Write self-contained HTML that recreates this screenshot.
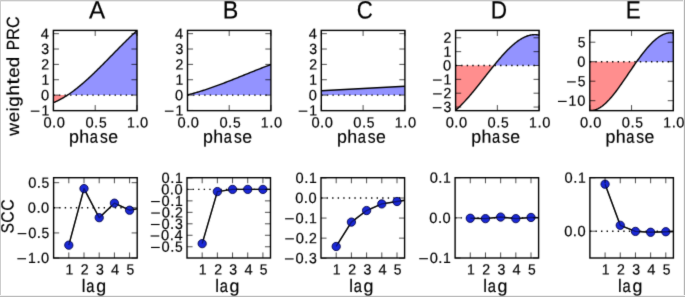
<!DOCTYPE html>
<html><head><meta charset="utf-8"><title>weighted PRC and SCC</title>
<style>html,body{margin:0;padding:0;background:#fff;overflow:hidden}svg{display:block;will-change:transform}text{fill:#000;stroke:#000;stroke-width:0.18px;text-rendering:geometricPrecision}</style>
</head><body>
<svg width="685" height="297" viewBox="0 0 685 297" font-family='"Liberation Sans", sans-serif'>
<rect width="685" height="297" fill="#fff"/>
<rect x="0" y="0" width="685" height="1" fill="#c8c8c8"/>
<rect x="0" y="1" width="685" height="1" fill="#ececec"/>
<rect x="0" y="0" width="1" height="297" fill="#cdcdcd"/>
<rect x="684" y="0" width="1" height="297" fill="#b4b4b4"/>
<rect x="683" y="0" width="1" height="297" fill="#f0f0f0"/>
<rect x="0" y="296" width="685" height="1" fill="#bcbcbc"/>
<rect x="0" y="295" width="685" height="1" fill="#f0f0f0"/>
<defs>
<filter id="soft" filterUnits="userSpaceOnUse" x="0" y="0" width="685" height="297" color-interpolation-filters="sRGB"><feConvolveMatrix order="3" kernelMatrix="0.01145 0.08410 0.01145 0.08410 0.61780 0.08410 0.01145 0.08410 0.01145" divisor="1" edgeMode="none"/></filter>
<clipPath id="ct0"><rect x="53.4" y="30.4" width="83.6" height="80.25"/></clipPath>
<clipPath id="cb0"><rect x="53.6" y="177.7" width="83.6" height="80.3"/></clipPath>
<clipPath id="ct1"><rect x="187.5" y="30.4" width="83.4" height="80.25"/></clipPath>
<clipPath id="cb1"><rect x="187.0" y="177.7" width="83.5" height="80.3"/></clipPath>
<clipPath id="ct2"><rect x="321.3" y="30.4" width="83.6" height="80.25"/></clipPath>
<clipPath id="cb2"><rect x="321.0" y="177.7" width="83.6" height="80.3"/></clipPath>
<clipPath id="ct3"><rect x="455.6" y="30.4" width="83.5" height="80.25"/></clipPath>
<clipPath id="cb3"><rect x="455.1" y="177.7" width="83.5" height="80.3"/></clipPath>
<clipPath id="ct4"><rect x="589.8" y="30.4" width="83.5" height="80.25"/></clipPath>
<clipPath id="cb4"><rect x="589.9" y="177.7" width="83.5" height="80.3"/></clipPath>
</defs>
<g filter="url(#soft)">
<g clip-path="url(#ct0)">
<polygon points="53.4,95.1 54.1,95.1 54.81,95.1 55.51,95.1 56.21,95.1 56.91,95.1 57.62,95.1 58.32,95.1 59.02,95.1 59.72,95.1 60.43,95.1 61.13,95.1 61.83,95.1 62.53,95.1 63.24,95.1 63.94,95.1 64.64,95.1 65.34,95.1 66.05,95.1 66.75,95.1 67.45,95.1 68.15,94.69 68.86,94.22 69.56,93.74 70.26,93.25 70.96,92.75 71.67,92.24 72.37,91.73 73.07,91.21 73.77,90.69 74.48,90.16 75.18,89.62 75.88,89.07 76.58,88.52 77.29,87.96 77.99,87.39 78.69,86.82 79.39,86.25 80.1,85.66 80.8,85.07 81.5,84.48 82.2,83.88 82.91,83.27 83.61,82.66 84.31,82.05 85.01,81.43 85.72,80.8 86.42,80.17 87.12,79.54 87.82,78.9 88.53,78.25 89.23,77.61 89.93,76.95 90.63,76.3 91.34,75.64 92.04,74.98 92.74,74.31 93.44,73.64 94.15,72.96 94.85,72.29 95.55,71.61 96.25,70.92 96.96,70.24 97.66,69.55 98.36,68.86 99.06,68.16 99.77,67.47 100.47,66.77 101.17,66.07 101.87,65.37 102.58,64.66 103.28,63.96 103.98,63.25 104.68,62.54 105.39,61.83 106.09,61.12 106.79,60.4 107.49,59.69 108.2,58.98 108.9,58.26 109.6,57.55 110.3,56.83 111.01,56.11 111.71,55.4 112.41,54.68 113.11,53.97 113.82,53.25 114.52,52.53 115.22,51.82 115.92,51.1 116.63,50.39 117.33,49.68 118.03,48.96 118.73,48.25 119.44,47.54 120.14,46.83 120.84,46.13 121.54,45.42 122.25,44.72 122.95,44.02 123.65,43.32 124.35,42.62 125.06,41.92 125.76,41.23 126.46,40.54 127.16,39.85 127.87,39.16 128.57,38.48 129.27,37.8 129.97,37.12 130.68,36.45 131.38,35.78 132.08,35.11 132.78,34.45 133.49,33.79 134.19,33.14 134.89,32.49 135.59,31.84 136.3,31.2 137,30.56 137,95.1 53.4,95.1" fill="#9393ff"/>
<polygon points="53.4,102.62 54.1,102.34 54.81,102.05 55.51,101.75 56.21,101.44 56.91,101.11 57.62,100.78 58.32,100.44 59.02,100.09 59.72,99.73 60.43,99.35 61.13,98.97 61.83,98.59 62.53,98.19 63.24,97.78 63.94,97.36 64.64,96.94 65.34,96.51 66.05,96.06 66.75,95.61 67.45,95.16 68.15,95.1 68.86,95.1 69.56,95.1 70.26,95.1 70.96,95.1 71.67,95.1 72.37,95.1 73.07,95.1 73.77,95.1 74.48,95.1 75.18,95.1 75.88,95.1 76.58,95.1 77.29,95.1 77.99,95.1 78.69,95.1 79.39,95.1 80.1,95.1 80.8,95.1 81.5,95.1 82.2,95.1 82.91,95.1 83.61,95.1 84.31,95.1 85.01,95.1 85.72,95.1 86.42,95.1 87.12,95.1 87.82,95.1 88.53,95.1 89.23,95.1 89.93,95.1 90.63,95.1 91.34,95.1 92.04,95.1 92.74,95.1 93.44,95.1 94.15,95.1 94.85,95.1 95.55,95.1 96.25,95.1 96.96,95.1 97.66,95.1 98.36,95.1 99.06,95.1 99.77,95.1 100.47,95.1 101.17,95.1 101.87,95.1 102.58,95.1 103.28,95.1 103.98,95.1 104.68,95.1 105.39,95.1 106.09,95.1 106.79,95.1 107.49,95.1 108.2,95.1 108.9,95.1 109.6,95.1 110.3,95.1 111.01,95.1 111.71,95.1 112.41,95.1 113.11,95.1 113.82,95.1 114.52,95.1 115.22,95.1 115.92,95.1 116.63,95.1 117.33,95.1 118.03,95.1 118.73,95.1 119.44,95.1 120.14,95.1 120.84,95.1 121.54,95.1 122.25,95.1 122.95,95.1 123.65,95.1 124.35,95.1 125.06,95.1 125.76,95.1 126.46,95.1 127.16,95.1 127.87,95.1 128.57,95.1 129.27,95.1 129.97,95.1 130.68,95.1 131.38,95.1 132.08,95.1 132.78,95.1 133.49,95.1 134.19,95.1 134.89,95.1 135.59,95.1 136.3,95.1 137,95.1 137,95.1 53.4,95.1" fill="#ff8e8e"/>
<line x1="53.4" y1="95.1" x2="137.0" y2="95.1" stroke="#000" stroke-width="1.39" stroke-dasharray="1.39 4.17"/>
<polyline points="53.4,102.62 54.1,102.34 54.81,102.05 55.51,101.75 56.21,101.44 56.91,101.11 57.62,100.78 58.32,100.44 59.02,100.09 59.72,99.73 60.43,99.35 61.13,98.97 61.83,98.59 62.53,98.19 63.24,97.78 63.94,97.36 64.64,96.94 65.34,96.51 66.05,96.06 66.75,95.61 67.45,95.16 68.15,94.69 68.86,94.22 69.56,93.74 70.26,93.25 70.96,92.75 71.67,92.24 72.37,91.73 73.07,91.21 73.77,90.69 74.48,90.16 75.18,89.62 75.88,89.07 76.58,88.52 77.29,87.96 77.99,87.39 78.69,86.82 79.39,86.25 80.1,85.66 80.8,85.07 81.5,84.48 82.2,83.88 82.91,83.27 83.61,82.66 84.31,82.05 85.01,81.43 85.72,80.8 86.42,80.17 87.12,79.54 87.82,78.9 88.53,78.25 89.23,77.61 89.93,76.95 90.63,76.3 91.34,75.64 92.04,74.98 92.74,74.31 93.44,73.64 94.15,72.96 94.85,72.29 95.55,71.61 96.25,70.92 96.96,70.24 97.66,69.55 98.36,68.86 99.06,68.16 99.77,67.47 100.47,66.77 101.17,66.07 101.87,65.37 102.58,64.66 103.28,63.96 103.98,63.25 104.68,62.54 105.39,61.83 106.09,61.12 106.79,60.4 107.49,59.69 108.2,58.98 108.9,58.26 109.6,57.55 110.3,56.83 111.01,56.11 111.71,55.4 112.41,54.68 113.11,53.97 113.82,53.25 114.52,52.53 115.22,51.82 115.92,51.1 116.63,50.39 117.33,49.68 118.03,48.96 118.73,48.25 119.44,47.54 120.14,46.83 120.84,46.13 121.54,45.42 122.25,44.72 122.95,44.02 123.65,43.32 124.35,42.62 125.06,41.92 125.76,41.23 126.46,40.54 127.16,39.85 127.87,39.16 128.57,38.48 129.27,37.8 129.97,37.12 130.68,36.45 131.38,35.78 132.08,35.11 132.78,34.45 133.49,33.79 134.19,33.14 134.89,32.49 135.59,31.84 136.3,31.2 137,30.56" fill="none" stroke="#000" stroke-width="1.4" stroke-linejoin="round"/>
</g>
<line x1="53.4" y1="110.46" x2="58.96" y2="110.46" stroke="#000" stroke-width="0.7"/>
<line x1="131.44" y1="110.46" x2="137.0" y2="110.46" stroke="#000" stroke-width="0.7"/>
<line x1="53.4" y1="95.1" x2="58.96" y2="95.1" stroke="#000" stroke-width="0.7"/>
<line x1="131.44" y1="95.1" x2="137.0" y2="95.1" stroke="#000" stroke-width="0.7"/>
<line x1="53.4" y1="79.74" x2="58.96" y2="79.74" stroke="#000" stroke-width="0.7"/>
<line x1="131.44" y1="79.74" x2="137.0" y2="79.74" stroke="#000" stroke-width="0.7"/>
<line x1="53.4" y1="64.38" x2="58.96" y2="64.38" stroke="#000" stroke-width="0.7"/>
<line x1="131.44" y1="64.38" x2="137.0" y2="64.38" stroke="#000" stroke-width="0.7"/>
<line x1="53.4" y1="49.02" x2="58.96" y2="49.02" stroke="#000" stroke-width="0.7"/>
<line x1="131.44" y1="49.02" x2="137.0" y2="49.02" stroke="#000" stroke-width="0.7"/>
<line x1="53.4" y1="33.66" x2="58.96" y2="33.66" stroke="#000" stroke-width="0.7"/>
<line x1="131.44" y1="33.66" x2="137.0" y2="33.66" stroke="#000" stroke-width="0.7"/>
<line x1="53.4" y1="30.4" x2="53.4" y2="35.96" stroke="#000" stroke-width="0.7"/>
<line x1="53.4" y1="105.09" x2="53.4" y2="110.65" stroke="#000" stroke-width="0.7"/>
<line x1="95.2" y1="30.4" x2="95.2" y2="35.96" stroke="#000" stroke-width="0.7"/>
<line x1="95.2" y1="105.09" x2="95.2" y2="110.65" stroke="#000" stroke-width="0.7"/>
<line x1="137" y1="30.4" x2="137" y2="35.96" stroke="#000" stroke-width="0.7"/>
<line x1="137" y1="105.09" x2="137" y2="110.65" stroke="#000" stroke-width="0.7"/>
<rect x="53.4" y="30.4" width="83.6" height="80.25" fill="none" stroke="#000" stroke-width="1.39"/>
<rect x="30.77" y="110.59" width="8.7" height="1.15" fill="#000"/>
<text transform="translate(41.4,115.53) rotate(0.05) scale(1.0068,1.0596)" font-size="13.9">1</text>
<text transform="translate(40.92,100.17) rotate(0.05) scale(1.0541,1.0629)" font-size="13.9">0</text>
<text transform="translate(41.4,84.81) rotate(0.05) scale(1.0068,1.0596)" font-size="13.9">1</text>
<text transform="translate(41.36,69.45) rotate(0.05) scale(1.0161,1.0629)" font-size="13.9">2</text>
<text transform="translate(41.29,54.09) rotate(0.05) scale(1.0124,1.0629)" font-size="13.9">3</text>
<text transform="translate(40.78,38.73) rotate(0.05) scale(1.0543,1.0596)" font-size="13.9">4</text>
<text transform="translate(43.49,127.5) rotate(0.05) scale(1.0541,1.0629)" font-size="13.9">0</text>
<text transform="translate(52.11,127.5) rotate(0.05) scale(1.0821,1.1598)" font-size="13.9">.</text>
<text transform="translate(56.76,127.5) rotate(0.05) scale(1.0541,1.0629)" font-size="13.9">0</text>
<text transform="translate(85.44,127.5) rotate(0.05) scale(1.0541,1.0629)" font-size="13.9">0</text>
<text transform="translate(94.05,127.5) rotate(0.05) scale(1.0821,1.1598)" font-size="13.9">.</text>
<text transform="translate(98.88,127.5) rotate(0.05) scale(0.9949,1.0596)" font-size="13.9">5</text>
<text transform="translate(126.91,127.5) rotate(0.05) scale(1.0068,1.0596)" font-size="13.9">1</text>
<text transform="translate(135.4,127.5) rotate(0.05) scale(1.0821,1.1598)" font-size="13.9">.</text>
<text transform="translate(140.05,127.5) rotate(0.05) scale(1.0541,1.0629)" font-size="13.9">0</text>
<text transform="translate(69.05,142.7) rotate(0.05) scale(1.0675,1.0749)" font-size="16.67">p</text>
<text transform="translate(79.35,142.7) rotate(0.05) scale(1.0652,1.0819)" font-size="16.67">h</text>
<text transform="translate(89.82,142.7) rotate(0.05) scale(0.8823,1.0739)" font-size="16.67">a</text>
<text transform="translate(99.94,142.7) rotate(0.05) scale(0.9405,1.0769)" font-size="16.67">s</text>
<text transform="translate(108.16,142.7) rotate(0.05) scale(1.0598,1.0739)" font-size="16.67">e</text>
<text transform="translate(89.02,18.4) rotate(0.05) scale(1.0265,1.0596)" font-size="23.6">A</text>
<g clip-path="url(#ct1)">
<polygon points="187.5,94.9 188.2,94.73 188.9,94.55 189.6,94.37 190.3,94.19 191,94.01 191.71,93.82 192.41,93.63 193.11,93.44 193.81,93.24 194.51,93.04 195.21,92.84 195.91,92.64 196.61,92.44 197.31,92.23 198.01,92.02 198.71,91.81 199.41,91.6 200.12,91.38 200.82,91.17 201.52,90.95 202.22,90.73 202.92,90.5 203.62,90.28 204.32,90.05 205.02,89.82 205.72,89.59 206.42,89.36 207.12,89.12 207.82,88.89 208.53,88.65 209.23,88.41 209.93,88.17 210.63,87.93 211.33,87.68 212.03,87.44 212.73,87.19 213.43,86.94 214.13,86.69 214.83,86.44 215.53,86.18 216.23,85.93 216.94,85.67 217.64,85.42 218.34,85.16 219.04,84.9 219.74,84.64 220.44,84.37 221.14,84.11 221.84,83.84 222.54,83.58 223.24,83.31 223.94,83.04 224.64,82.78 225.35,82.51 226.05,82.24 226.75,81.96 227.45,81.69 228.15,81.42 228.85,81.14 229.55,80.87 230.25,80.59 230.95,80.32 231.65,80.04 232.35,79.76 233.05,79.49 233.76,79.21 234.46,78.93 235.16,78.65 235.86,78.37 236.56,78.09 237.26,77.81 237.96,77.53 238.66,77.25 239.36,76.96 240.06,76.68 240.76,76.4 241.46,76.12 242.17,75.83 242.87,75.55 243.57,75.27 244.27,74.99 244.97,74.7 245.67,74.42 246.37,74.14 247.07,73.85 247.77,73.57 248.47,73.29 249.17,73 249.87,72.72 250.58,72.44 251.28,72.16 251.98,71.88 252.68,71.6 253.38,71.31 254.08,71.03 254.78,70.75 255.48,70.47 256.18,70.2 256.88,69.92 257.58,69.64 258.28,69.36 258.99,69.08 259.69,68.81 260.39,68.53 261.09,68.26 261.79,67.98 262.49,67.71 263.19,67.44 263.89,67.17 264.59,66.89 265.29,66.62 265.99,66.36 266.69,66.09 267.4,65.82 268.1,65.55 268.8,65.29 269.5,65.03 270.2,64.76 270.9,64.5 270.9,95.1 187.5,95.1" fill="#9393ff"/>
<line x1="187.5" y1="95.1" x2="270.9" y2="95.1" stroke="#000" stroke-width="1.39" stroke-dasharray="1.39 4.17"/>
<polyline points="187.5,94.9 188.2,94.73 188.9,94.55 189.6,94.37 190.3,94.19 191,94.01 191.71,93.82 192.41,93.63 193.11,93.44 193.81,93.24 194.51,93.04 195.21,92.84 195.91,92.64 196.61,92.44 197.31,92.23 198.01,92.02 198.71,91.81 199.41,91.6 200.12,91.38 200.82,91.17 201.52,90.95 202.22,90.73 202.92,90.5 203.62,90.28 204.32,90.05 205.02,89.82 205.72,89.59 206.42,89.36 207.12,89.12 207.82,88.89 208.53,88.65 209.23,88.41 209.93,88.17 210.63,87.93 211.33,87.68 212.03,87.44 212.73,87.19 213.43,86.94 214.13,86.69 214.83,86.44 215.53,86.18 216.23,85.93 216.94,85.67 217.64,85.42 218.34,85.16 219.04,84.9 219.74,84.64 220.44,84.37 221.14,84.11 221.84,83.84 222.54,83.58 223.24,83.31 223.94,83.04 224.64,82.78 225.35,82.51 226.05,82.24 226.75,81.96 227.45,81.69 228.15,81.42 228.85,81.14 229.55,80.87 230.25,80.59 230.95,80.32 231.65,80.04 232.35,79.76 233.05,79.49 233.76,79.21 234.46,78.93 235.16,78.65 235.86,78.37 236.56,78.09 237.26,77.81 237.96,77.53 238.66,77.25 239.36,76.96 240.06,76.68 240.76,76.4 241.46,76.12 242.17,75.83 242.87,75.55 243.57,75.27 244.27,74.99 244.97,74.7 245.67,74.42 246.37,74.14 247.07,73.85 247.77,73.57 248.47,73.29 249.17,73 249.87,72.72 250.58,72.44 251.28,72.16 251.98,71.88 252.68,71.6 253.38,71.31 254.08,71.03 254.78,70.75 255.48,70.47 256.18,70.2 256.88,69.92 257.58,69.64 258.28,69.36 258.99,69.08 259.69,68.81 260.39,68.53 261.09,68.26 261.79,67.98 262.49,67.71 263.19,67.44 263.89,67.17 264.59,66.89 265.29,66.62 265.99,66.36 266.69,66.09 267.4,65.82 268.1,65.55 268.8,65.29 269.5,65.03 270.2,64.76 270.9,64.5" fill="none" stroke="#000" stroke-width="1.4" stroke-linejoin="round"/>
</g>
<line x1="187.5" y1="110.46" x2="193.06" y2="110.46" stroke="#000" stroke-width="0.7"/>
<line x1="265.34" y1="110.46" x2="270.9" y2="110.46" stroke="#000" stroke-width="0.7"/>
<line x1="187.5" y1="95.1" x2="193.06" y2="95.1" stroke="#000" stroke-width="0.7"/>
<line x1="265.34" y1="95.1" x2="270.9" y2="95.1" stroke="#000" stroke-width="0.7"/>
<line x1="187.5" y1="79.74" x2="193.06" y2="79.74" stroke="#000" stroke-width="0.7"/>
<line x1="265.34" y1="79.74" x2="270.9" y2="79.74" stroke="#000" stroke-width="0.7"/>
<line x1="187.5" y1="64.38" x2="193.06" y2="64.38" stroke="#000" stroke-width="0.7"/>
<line x1="265.34" y1="64.38" x2="270.9" y2="64.38" stroke="#000" stroke-width="0.7"/>
<line x1="187.5" y1="49.02" x2="193.06" y2="49.02" stroke="#000" stroke-width="0.7"/>
<line x1="265.34" y1="49.02" x2="270.9" y2="49.02" stroke="#000" stroke-width="0.7"/>
<line x1="187.5" y1="33.66" x2="193.06" y2="33.66" stroke="#000" stroke-width="0.7"/>
<line x1="265.34" y1="33.66" x2="270.9" y2="33.66" stroke="#000" stroke-width="0.7"/>
<line x1="187.5" y1="30.4" x2="187.5" y2="35.96" stroke="#000" stroke-width="0.7"/>
<line x1="187.5" y1="105.09" x2="187.5" y2="110.65" stroke="#000" stroke-width="0.7"/>
<line x1="229.2" y1="30.4" x2="229.2" y2="35.96" stroke="#000" stroke-width="0.7"/>
<line x1="229.2" y1="105.09" x2="229.2" y2="110.65" stroke="#000" stroke-width="0.7"/>
<line x1="270.9" y1="30.4" x2="270.9" y2="35.96" stroke="#000" stroke-width="0.7"/>
<line x1="270.9" y1="105.09" x2="270.9" y2="110.65" stroke="#000" stroke-width="0.7"/>
<rect x="187.5" y="30.4" width="83.4" height="80.25" fill="none" stroke="#000" stroke-width="1.39"/>
<rect x="164.87" y="110.59" width="8.7" height="1.15" fill="#000"/>
<text transform="translate(175.5,115.53) rotate(0.05) scale(1.0068,1.0596)" font-size="13.9">1</text>
<text transform="translate(175.02,100.17) rotate(0.05) scale(1.0541,1.0629)" font-size="13.9">0</text>
<text transform="translate(175.5,84.81) rotate(0.05) scale(1.0068,1.0596)" font-size="13.9">1</text>
<text transform="translate(175.46,69.45) rotate(0.05) scale(1.0161,1.0629)" font-size="13.9">2</text>
<text transform="translate(175.39,54.09) rotate(0.05) scale(1.0124,1.0629)" font-size="13.9">3</text>
<text transform="translate(174.88,38.73) rotate(0.05) scale(1.0543,1.0596)" font-size="13.9">4</text>
<text transform="translate(177.59,127.5) rotate(0.05) scale(1.0541,1.0629)" font-size="13.9">0</text>
<text transform="translate(186.21,127.5) rotate(0.05) scale(1.0821,1.1598)" font-size="13.9">.</text>
<text transform="translate(190.86,127.5) rotate(0.05) scale(1.0541,1.0629)" font-size="13.9">0</text>
<text transform="translate(219.44,127.5) rotate(0.05) scale(1.0541,1.0629)" font-size="13.9">0</text>
<text transform="translate(228.05,127.5) rotate(0.05) scale(1.0821,1.1598)" font-size="13.9">.</text>
<text transform="translate(232.88,127.5) rotate(0.05) scale(0.9949,1.0596)" font-size="13.9">5</text>
<text transform="translate(260.81,127.5) rotate(0.05) scale(1.0068,1.0596)" font-size="13.9">1</text>
<text transform="translate(269.3,127.5) rotate(0.05) scale(1.0821,1.1598)" font-size="13.9">.</text>
<text transform="translate(273.95,127.5) rotate(0.05) scale(1.0541,1.0629)" font-size="13.9">0</text>
<text transform="translate(203.05,142.7) rotate(0.05) scale(1.0675,1.0749)" font-size="16.67">p</text>
<text transform="translate(213.35,142.7) rotate(0.05) scale(1.0652,1.0819)" font-size="16.67">h</text>
<text transform="translate(223.82,142.7) rotate(0.05) scale(0.8823,1.0739)" font-size="16.67">a</text>
<text transform="translate(233.94,142.7) rotate(0.05) scale(0.9405,1.0769)" font-size="16.67">s</text>
<text transform="translate(242.16,142.7) rotate(0.05) scale(1.0598,1.0739)" font-size="16.67">e</text>
<text transform="translate(222.74,18.4) rotate(0.05) scale(0.9875,1.0596)" font-size="23.6">B</text>
<g clip-path="url(#ct2)">
<polygon points="321.3,90.8 404.9,86.2 404.9,95.1 321.3,95.1" fill="#9393ff"/>
<line x1="321.3" y1="95.1" x2="404.9" y2="95.1" stroke="#000" stroke-width="1.39" stroke-dasharray="1.39 4.17"/>
<polyline points="321.3,90.8 404.9,86.2" fill="none" stroke="#000" stroke-width="1.4" stroke-linejoin="round"/>
</g>
<line x1="321.3" y1="110.46" x2="326.86" y2="110.46" stroke="#000" stroke-width="0.7"/>
<line x1="399.34" y1="110.46" x2="404.9" y2="110.46" stroke="#000" stroke-width="0.7"/>
<line x1="321.3" y1="95.1" x2="326.86" y2="95.1" stroke="#000" stroke-width="0.7"/>
<line x1="399.34" y1="95.1" x2="404.9" y2="95.1" stroke="#000" stroke-width="0.7"/>
<line x1="321.3" y1="79.74" x2="326.86" y2="79.74" stroke="#000" stroke-width="0.7"/>
<line x1="399.34" y1="79.74" x2="404.9" y2="79.74" stroke="#000" stroke-width="0.7"/>
<line x1="321.3" y1="64.38" x2="326.86" y2="64.38" stroke="#000" stroke-width="0.7"/>
<line x1="399.34" y1="64.38" x2="404.9" y2="64.38" stroke="#000" stroke-width="0.7"/>
<line x1="321.3" y1="49.02" x2="326.86" y2="49.02" stroke="#000" stroke-width="0.7"/>
<line x1="399.34" y1="49.02" x2="404.9" y2="49.02" stroke="#000" stroke-width="0.7"/>
<line x1="321.3" y1="33.66" x2="326.86" y2="33.66" stroke="#000" stroke-width="0.7"/>
<line x1="399.34" y1="33.66" x2="404.9" y2="33.66" stroke="#000" stroke-width="0.7"/>
<line x1="321.3" y1="30.4" x2="321.3" y2="35.96" stroke="#000" stroke-width="0.7"/>
<line x1="321.3" y1="105.09" x2="321.3" y2="110.65" stroke="#000" stroke-width="0.7"/>
<line x1="363.1" y1="30.4" x2="363.1" y2="35.96" stroke="#000" stroke-width="0.7"/>
<line x1="363.1" y1="105.09" x2="363.1" y2="110.65" stroke="#000" stroke-width="0.7"/>
<line x1="404.9" y1="30.4" x2="404.9" y2="35.96" stroke="#000" stroke-width="0.7"/>
<line x1="404.9" y1="105.09" x2="404.9" y2="110.65" stroke="#000" stroke-width="0.7"/>
<rect x="321.3" y="30.4" width="83.6" height="80.25" fill="none" stroke="#000" stroke-width="1.39"/>
<rect x="298.67" y="110.59" width="8.7" height="1.15" fill="#000"/>
<text transform="translate(309.3,115.53) rotate(0.05) scale(1.0068,1.0596)" font-size="13.9">1</text>
<text transform="translate(308.82,100.17) rotate(0.05) scale(1.0541,1.0629)" font-size="13.9">0</text>
<text transform="translate(309.3,84.81) rotate(0.05) scale(1.0068,1.0596)" font-size="13.9">1</text>
<text transform="translate(309.26,69.45) rotate(0.05) scale(1.0161,1.0629)" font-size="13.9">2</text>
<text transform="translate(309.19,54.09) rotate(0.05) scale(1.0124,1.0629)" font-size="13.9">3</text>
<text transform="translate(308.68,38.73) rotate(0.05) scale(1.0543,1.0596)" font-size="13.9">4</text>
<text transform="translate(311.39,127.5) rotate(0.05) scale(1.0541,1.0629)" font-size="13.9">0</text>
<text transform="translate(320.01,127.5) rotate(0.05) scale(1.0821,1.1598)" font-size="13.9">.</text>
<text transform="translate(324.66,127.5) rotate(0.05) scale(1.0541,1.0629)" font-size="13.9">0</text>
<text transform="translate(353.34,127.5) rotate(0.05) scale(1.0541,1.0629)" font-size="13.9">0</text>
<text transform="translate(361.95,127.5) rotate(0.05) scale(1.0821,1.1598)" font-size="13.9">.</text>
<text transform="translate(366.78,127.5) rotate(0.05) scale(0.9949,1.0596)" font-size="13.9">5</text>
<text transform="translate(394.81,127.5) rotate(0.05) scale(1.0068,1.0596)" font-size="13.9">1</text>
<text transform="translate(403.3,127.5) rotate(0.05) scale(1.0821,1.1598)" font-size="13.9">.</text>
<text transform="translate(407.95,127.5) rotate(0.05) scale(1.0541,1.0629)" font-size="13.9">0</text>
<text transform="translate(336.95,142.7) rotate(0.05) scale(1.0675,1.0749)" font-size="16.67">p</text>
<text transform="translate(347.25,142.7) rotate(0.05) scale(1.0652,1.0819)" font-size="16.67">h</text>
<text transform="translate(357.72,142.7) rotate(0.05) scale(0.8823,1.0739)" font-size="16.67">a</text>
<text transform="translate(367.84,142.7) rotate(0.05) scale(0.9405,1.0769)" font-size="16.67">s</text>
<text transform="translate(376.06,142.7) rotate(0.05) scale(1.0598,1.0739)" font-size="16.67">e</text>
<text transform="translate(356.78,18.4) rotate(0.05) scale(0.9417,1.0629)" font-size="23.6">C</text>
<g clip-path="url(#ct3)">
<polygon points="455.6,65.5 456.3,65.5 457,65.5 457.71,65.5 458.41,65.5 459.11,65.5 459.81,65.5 460.51,65.5 461.21,65.5 461.92,65.5 462.62,65.5 463.32,65.5 464.02,65.5 464.72,65.5 465.42,65.5 466.13,65.5 466.83,65.5 467.53,65.5 468.23,65.5 468.93,65.5 469.63,65.5 470.34,65.5 471.04,65.5 471.74,65.5 472.44,65.5 473.14,65.5 473.84,65.5 474.55,65.5 475.25,65.5 475.95,65.5 476.65,65.5 477.35,65.5 478.05,65.5 478.76,65.5 479.46,65.5 480.16,65.5 480.86,65.5 481.56,65.5 482.26,65.5 482.97,65.5 483.67,65.5 484.37,65.5 485.07,65.5 485.77,65.5 486.47,65.5 487.18,65.5 487.88,65.5 488.58,65.5 489.28,65.5 489.98,65.5 490.68,65.5 491.39,65.5 492.09,65.5 492.79,65.5 493.49,65.5 494.19,65.2 494.89,64.34 495.6,63.48 496.3,62.63 497,61.79 497.7,60.95 498.4,60.12 499.1,59.29 499.81,58.48 500.51,57.67 501.21,56.87 501.91,56.07 502.61,55.29 503.31,54.51 504.02,53.74 504.72,52.99 505.42,52.24 506.12,51.5 506.82,50.78 507.52,50.06 508.23,49.36 508.93,48.67 509.63,47.99 510.33,47.33 511.03,46.67 511.73,46.03 512.44,45.41 513.14,44.79 513.84,44.2 514.54,43.61 515.24,43.04 515.94,42.49 516.65,41.95 517.35,41.43 518.05,40.93 518.75,40.44 519.45,39.97 520.15,39.51 520.86,39.08 521.56,38.66 522.26,38.26 522.96,37.88 523.66,37.52 524.36,37.18 525.07,36.86 525.77,36.56 526.47,36.28 527.17,36.02 527.87,35.78 528.57,35.57 529.28,35.37 529.98,35.2 530.68,35.05 531.38,34.92 532.08,34.82 532.78,34.74 533.49,34.69 534.19,34.66 534.89,34.65 535.59,34.67 536.29,34.72 536.99,34.79 537.7,34.89 538.4,35.02 539.1,35.17 539.1,65.5 455.6,65.5" fill="#9393ff"/>
<polygon points="455.6,110.22 456.3,109.62 457,109 457.71,108.37 458.41,107.72 459.11,107.07 459.81,106.39 460.51,105.71 461.21,105.02 461.92,104.31 462.62,103.59 463.32,102.86 464.02,102.12 464.72,101.37 465.42,100.61 466.13,99.84 466.83,99.06 467.53,98.27 468.23,97.48 468.93,96.67 469.63,95.86 470.34,95.04 471.04,94.21 471.74,93.38 472.44,92.54 473.14,91.69 473.84,90.84 474.55,89.98 475.25,89.12 475.95,88.25 476.65,87.38 477.35,86.5 478.05,85.62 478.76,84.74 479.46,83.86 480.16,82.97 480.86,82.08 481.56,81.18 482.26,80.29 482.97,79.4 483.67,78.5 484.37,77.6 485.07,76.71 485.77,75.81 486.47,74.91 487.18,74.02 487.88,73.13 488.58,72.23 489.28,71.34 489.98,70.46 490.68,69.57 491.39,68.69 492.09,67.81 492.79,66.94 493.49,66.07 494.19,65.5 494.89,65.5 495.6,65.5 496.3,65.5 497,65.5 497.7,65.5 498.4,65.5 499.1,65.5 499.81,65.5 500.51,65.5 501.21,65.5 501.91,65.5 502.61,65.5 503.31,65.5 504.02,65.5 504.72,65.5 505.42,65.5 506.12,65.5 506.82,65.5 507.52,65.5 508.23,65.5 508.93,65.5 509.63,65.5 510.33,65.5 511.03,65.5 511.73,65.5 512.44,65.5 513.14,65.5 513.84,65.5 514.54,65.5 515.24,65.5 515.94,65.5 516.65,65.5 517.35,65.5 518.05,65.5 518.75,65.5 519.45,65.5 520.15,65.5 520.86,65.5 521.56,65.5 522.26,65.5 522.96,65.5 523.66,65.5 524.36,65.5 525.07,65.5 525.77,65.5 526.47,65.5 527.17,65.5 527.87,65.5 528.57,65.5 529.28,65.5 529.98,65.5 530.68,65.5 531.38,65.5 532.08,65.5 532.78,65.5 533.49,65.5 534.19,65.5 534.89,65.5 535.59,65.5 536.29,65.5 536.99,65.5 537.7,65.5 538.4,65.5 539.1,65.5 539.1,65.5 455.6,65.5" fill="#ff8e8e"/>
<line x1="455.6" y1="65.5" x2="539.1" y2="65.5" stroke="#000" stroke-width="1.39" stroke-dasharray="1.39 4.17"/>
<polyline points="455.6,110.22 456.3,109.62 457,109 457.71,108.37 458.41,107.72 459.11,107.07 459.81,106.39 460.51,105.71 461.21,105.02 461.92,104.31 462.62,103.59 463.32,102.86 464.02,102.12 464.72,101.37 465.42,100.61 466.13,99.84 466.83,99.06 467.53,98.27 468.23,97.48 468.93,96.67 469.63,95.86 470.34,95.04 471.04,94.21 471.74,93.38 472.44,92.54 473.14,91.69 473.84,90.84 474.55,89.98 475.25,89.12 475.95,88.25 476.65,87.38 477.35,86.5 478.05,85.62 478.76,84.74 479.46,83.86 480.16,82.97 480.86,82.08 481.56,81.18 482.26,80.29 482.97,79.4 483.67,78.5 484.37,77.6 485.07,76.71 485.77,75.81 486.47,74.91 487.18,74.02 487.88,73.13 488.58,72.23 489.28,71.34 489.98,70.46 490.68,69.57 491.39,68.69 492.09,67.81 492.79,66.94 493.49,66.07 494.19,65.2 494.89,64.34 495.6,63.48 496.3,62.63 497,61.79 497.7,60.95 498.4,60.12 499.1,59.29 499.81,58.48 500.51,57.67 501.21,56.87 501.91,56.07 502.61,55.29 503.31,54.51 504.02,53.74 504.72,52.99 505.42,52.24 506.12,51.5 506.82,50.78 507.52,50.06 508.23,49.36 508.93,48.67 509.63,47.99 510.33,47.33 511.03,46.67 511.73,46.03 512.44,45.41 513.14,44.79 513.84,44.2 514.54,43.61 515.24,43.04 515.94,42.49 516.65,41.95 517.35,41.43 518.05,40.93 518.75,40.44 519.45,39.97 520.15,39.51 520.86,39.08 521.56,38.66 522.26,38.26 522.96,37.88 523.66,37.52 524.36,37.18 525.07,36.86 525.77,36.56 526.47,36.28 527.17,36.02 527.87,35.78 528.57,35.57 529.28,35.37 529.98,35.2 530.68,35.05 531.38,34.92 532.08,34.82 532.78,34.74 533.49,34.69 534.19,34.66 534.89,34.65 535.59,34.67 536.29,34.72 536.99,34.79 537.7,34.89 538.4,35.02 539.1,35.17" fill="none" stroke="#000" stroke-width="1.4" stroke-linejoin="round"/>
</g>
<line x1="455.6" y1="107.05" x2="461.16" y2="107.05" stroke="#000" stroke-width="0.7"/>
<line x1="533.54" y1="107.05" x2="539.1" y2="107.05" stroke="#000" stroke-width="0.7"/>
<line x1="455.6" y1="93.2" x2="461.16" y2="93.2" stroke="#000" stroke-width="0.7"/>
<line x1="533.54" y1="93.2" x2="539.1" y2="93.2" stroke="#000" stroke-width="0.7"/>
<line x1="455.6" y1="79.35" x2="461.16" y2="79.35" stroke="#000" stroke-width="0.7"/>
<line x1="533.54" y1="79.35" x2="539.1" y2="79.35" stroke="#000" stroke-width="0.7"/>
<line x1="455.6" y1="65.5" x2="461.16" y2="65.5" stroke="#000" stroke-width="0.7"/>
<line x1="533.54" y1="65.5" x2="539.1" y2="65.5" stroke="#000" stroke-width="0.7"/>
<line x1="455.6" y1="51.65" x2="461.16" y2="51.65" stroke="#000" stroke-width="0.7"/>
<line x1="533.54" y1="51.65" x2="539.1" y2="51.65" stroke="#000" stroke-width="0.7"/>
<line x1="455.6" y1="37.8" x2="461.16" y2="37.8" stroke="#000" stroke-width="0.7"/>
<line x1="533.54" y1="37.8" x2="539.1" y2="37.8" stroke="#000" stroke-width="0.7"/>
<line x1="455.6" y1="30.4" x2="455.6" y2="35.96" stroke="#000" stroke-width="0.7"/>
<line x1="455.6" y1="105.09" x2="455.6" y2="110.65" stroke="#000" stroke-width="0.7"/>
<line x1="497.35" y1="30.4" x2="497.35" y2="35.96" stroke="#000" stroke-width="0.7"/>
<line x1="497.35" y1="105.09" x2="497.35" y2="110.65" stroke="#000" stroke-width="0.7"/>
<line x1="539.1" y1="30.4" x2="539.1" y2="35.96" stroke="#000" stroke-width="0.7"/>
<line x1="539.1" y1="105.09" x2="539.1" y2="110.65" stroke="#000" stroke-width="0.7"/>
<rect x="455.6" y="30.4" width="83.5" height="80.25" fill="none" stroke="#000" stroke-width="1.39"/>
<rect x="432.8" y="107.18" width="8.7" height="1.15" fill="#000"/>
<text transform="translate(443.49,112.12) rotate(0.05) scale(1.0124,1.0629)" font-size="13.9">3</text>
<rect x="433.07" y="93.33" width="8.7" height="1.15" fill="#000"/>
<text transform="translate(443.56,98.27) rotate(0.05) scale(1.0161,1.0629)" font-size="13.9">2</text>
<rect x="432.97" y="79.48" width="8.7" height="1.15" fill="#000"/>
<text transform="translate(443.6,84.42) rotate(0.05) scale(1.0068,1.0596)" font-size="13.9">1</text>
<text transform="translate(443.12,70.57) rotate(0.05) scale(1.0541,1.0629)" font-size="13.9">0</text>
<text transform="translate(443.6,56.72) rotate(0.05) scale(1.0068,1.0596)" font-size="13.9">1</text>
<text transform="translate(443.56,42.87) rotate(0.05) scale(1.0161,1.0629)" font-size="13.9">2</text>
<text transform="translate(445.69,127.5) rotate(0.05) scale(1.0541,1.0629)" font-size="13.9">0</text>
<text transform="translate(454.31,127.5) rotate(0.05) scale(1.0821,1.1598)" font-size="13.9">.</text>
<text transform="translate(458.96,127.5) rotate(0.05) scale(1.0541,1.0629)" font-size="13.9">0</text>
<text transform="translate(487.59,127.5) rotate(0.05) scale(1.0541,1.0629)" font-size="13.9">0</text>
<text transform="translate(496.2,127.5) rotate(0.05) scale(1.0821,1.1598)" font-size="13.9">.</text>
<text transform="translate(501.03,127.5) rotate(0.05) scale(0.9949,1.0596)" font-size="13.9">5</text>
<text transform="translate(529.01,127.5) rotate(0.05) scale(1.0068,1.0596)" font-size="13.9">1</text>
<text transform="translate(537.5,127.5) rotate(0.05) scale(1.0821,1.1598)" font-size="13.9">.</text>
<text transform="translate(542.15,127.5) rotate(0.05) scale(1.0541,1.0629)" font-size="13.9">0</text>
<text transform="translate(471.2,142.7) rotate(0.05) scale(1.0675,1.0749)" font-size="16.67">p</text>
<text transform="translate(481.5,142.7) rotate(0.05) scale(1.0652,1.0819)" font-size="16.67">h</text>
<text transform="translate(491.97,142.7) rotate(0.05) scale(0.8823,1.0739)" font-size="16.67">a</text>
<text transform="translate(502.09,142.7) rotate(0.05) scale(0.9405,1.0769)" font-size="16.67">s</text>
<text transform="translate(510.31,142.7) rotate(0.05) scale(1.0598,1.0739)" font-size="16.67">e</text>
<text transform="translate(490.77,18.4) rotate(0.05) scale(0.9559,1.0596)" font-size="23.6">D</text>
<g clip-path="url(#ct4)">
<polygon points="589.8,61.7 590.5,61.7 591.2,61.7 591.91,61.7 592.61,61.7 593.31,61.7 594.01,61.7 594.71,61.7 595.41,61.7 596.12,61.7 596.82,61.7 597.52,61.7 598.22,61.7 598.92,61.7 599.62,61.7 600.33,61.7 601.03,61.7 601.73,61.7 602.43,61.7 603.13,61.7 603.83,61.7 604.54,61.7 605.24,61.7 605.94,61.7 606.64,61.7 607.34,61.7 608.04,61.7 608.75,61.7 609.45,61.7 610.15,61.7 610.85,61.7 611.55,61.7 612.25,61.7 612.96,61.7 613.66,61.7 614.36,61.7 615.06,61.7 615.76,61.7 616.46,61.7 617.17,61.7 617.87,61.7 618.57,61.7 619.27,61.7 619.97,61.7 620.67,61.7 621.38,61.7 622.08,61.7 622.78,61.7 623.48,61.7 624.18,61.7 624.88,61.7 625.59,61.7 626.29,61.7 626.99,61.7 627.69,61.7 628.39,61.7 629.09,61.7 629.8,61.7 630.5,61.7 631.2,61.7 631.9,61.7 632.6,61.7 633.3,61.7 634.01,61.7 634.71,61.7 635.41,61.7 636.11,61.7 636.81,61.47 637.51,60.49 638.22,59.52 638.92,58.55 639.62,57.59 640.32,56.64 641.02,55.71 641.72,54.78 642.43,53.86 643.13,52.96 643.83,52.07 644.53,51.19 645.23,50.33 645.93,49.48 646.64,48.64 647.34,47.82 648.04,47.01 648.74,46.22 649.44,45.45 650.14,44.7 650.85,43.96 651.55,43.24 652.25,42.54 652.95,41.86 653.65,41.2 654.35,40.56 655.06,39.95 655.76,39.35 656.46,38.78 657.16,38.22 657.86,37.7 658.56,37.19 659.27,36.71 659.97,36.26 660.67,35.83 661.37,35.43 662.07,35.05 662.77,34.7 663.48,34.38 664.18,34.09 664.88,33.83 665.58,33.59 666.28,33.39 666.98,33.21 667.69,33.07 668.39,32.96 669.09,32.88 669.79,32.83 670.49,32.82 671.19,32.84 671.9,32.89 672.6,32.98 673.3,33.11 673.3,61.7 589.8,61.7" fill="#9393ff"/>
<polygon points="589.8,110.3 590.5,110.37 591.2,110.4 591.91,110.39 592.61,110.34 593.31,110.25 594.01,110.12 594.71,109.96 595.41,109.76 596.12,109.52 596.82,109.25 597.52,108.95 598.22,108.61 598.92,108.24 599.62,107.84 600.33,107.41 601.03,106.95 601.73,106.46 602.43,105.94 603.13,105.4 603.83,104.82 604.54,104.23 605.24,103.6 605.94,102.95 606.64,102.28 607.34,101.58 608.04,100.86 608.75,100.12 609.45,99.36 610.15,98.58 610.85,97.78 611.55,96.96 612.25,96.12 612.96,95.27 613.66,94.4 614.36,93.51 615.06,92.61 615.76,91.7 616.46,90.77 617.17,89.83 617.87,88.88 618.57,87.91 619.27,86.94 619.97,85.96 620.67,84.96 621.38,83.97 622.08,82.96 622.78,81.95 623.48,80.93 624.18,79.9 624.88,78.88 625.59,77.84 626.29,76.81 626.99,75.77 627.69,74.74 628.39,73.7 629.09,72.66 629.8,71.63 630.5,70.6 631.2,69.56 631.9,68.54 632.6,67.51 633.3,66.49 634.01,65.48 634.71,64.47 635.41,63.46 636.11,62.47 636.81,61.7 637.51,61.7 638.22,61.7 638.92,61.7 639.62,61.7 640.32,61.7 641.02,61.7 641.72,61.7 642.43,61.7 643.13,61.7 643.83,61.7 644.53,61.7 645.23,61.7 645.93,61.7 646.64,61.7 647.34,61.7 648.04,61.7 648.74,61.7 649.44,61.7 650.14,61.7 650.85,61.7 651.55,61.7 652.25,61.7 652.95,61.7 653.65,61.7 654.35,61.7 655.06,61.7 655.76,61.7 656.46,61.7 657.16,61.7 657.86,61.7 658.56,61.7 659.27,61.7 659.97,61.7 660.67,61.7 661.37,61.7 662.07,61.7 662.77,61.7 663.48,61.7 664.18,61.7 664.88,61.7 665.58,61.7 666.28,61.7 666.98,61.7 667.69,61.7 668.39,61.7 669.09,61.7 669.79,61.7 670.49,61.7 671.19,61.7 671.9,61.7 672.6,61.7 673.3,61.7 673.3,61.7 589.8,61.7" fill="#ff8e8e"/>
<line x1="589.8" y1="61.7" x2="673.3" y2="61.7" stroke="#000" stroke-width="1.39" stroke-dasharray="1.39 4.17"/>
<polyline points="589.8,110.3 590.5,110.37 591.2,110.4 591.91,110.39 592.61,110.34 593.31,110.25 594.01,110.12 594.71,109.96 595.41,109.76 596.12,109.52 596.82,109.25 597.52,108.95 598.22,108.61 598.92,108.24 599.62,107.84 600.33,107.41 601.03,106.95 601.73,106.46 602.43,105.94 603.13,105.4 603.83,104.82 604.54,104.23 605.24,103.6 605.94,102.95 606.64,102.28 607.34,101.58 608.04,100.86 608.75,100.12 609.45,99.36 610.15,98.58 610.85,97.78 611.55,96.96 612.25,96.12 612.96,95.27 613.66,94.4 614.36,93.51 615.06,92.61 615.76,91.7 616.46,90.77 617.17,89.83 617.87,88.88 618.57,87.91 619.27,86.94 619.97,85.96 620.67,84.96 621.38,83.97 622.08,82.96 622.78,81.95 623.48,80.93 624.18,79.9 624.88,78.88 625.59,77.84 626.29,76.81 626.99,75.77 627.69,74.74 628.39,73.7 629.09,72.66 629.8,71.63 630.5,70.6 631.2,69.56 631.9,68.54 632.6,67.51 633.3,66.49 634.01,65.48 634.71,64.47 635.41,63.46 636.11,62.47 636.81,61.47 637.51,60.49 638.22,59.52 638.92,58.55 639.62,57.59 640.32,56.64 641.02,55.71 641.72,54.78 642.43,53.86 643.13,52.96 643.83,52.07 644.53,51.19 645.23,50.33 645.93,49.48 646.64,48.64 647.34,47.82 648.04,47.01 648.74,46.22 649.44,45.45 650.14,44.7 650.85,43.96 651.55,43.24 652.25,42.54 652.95,41.86 653.65,41.2 654.35,40.56 655.06,39.95 655.76,39.35 656.46,38.78 657.16,38.22 657.86,37.7 658.56,37.19 659.27,36.71 659.97,36.26 660.67,35.83 661.37,35.43 662.07,35.05 662.77,34.7 663.48,34.38 664.18,34.09 664.88,33.83 665.58,33.59 666.28,33.39 666.98,33.21 667.69,33.07 668.39,32.96 669.09,32.88 669.79,32.83 670.49,32.82 671.19,32.84 671.9,32.89 672.6,32.98 673.3,33.11" fill="none" stroke="#000" stroke-width="1.4" stroke-linejoin="round"/>
</g>
<line x1="589.8" y1="100.7" x2="595.36" y2="100.7" stroke="#000" stroke-width="0.7"/>
<line x1="667.74" y1="100.7" x2="673.3" y2="100.7" stroke="#000" stroke-width="0.7"/>
<line x1="589.8" y1="81.2" x2="595.36" y2="81.2" stroke="#000" stroke-width="0.7"/>
<line x1="667.74" y1="81.2" x2="673.3" y2="81.2" stroke="#000" stroke-width="0.7"/>
<line x1="589.8" y1="61.7" x2="595.36" y2="61.7" stroke="#000" stroke-width="0.7"/>
<line x1="667.74" y1="61.7" x2="673.3" y2="61.7" stroke="#000" stroke-width="0.7"/>
<line x1="589.8" y1="42.2" x2="595.36" y2="42.2" stroke="#000" stroke-width="0.7"/>
<line x1="667.74" y1="42.2" x2="673.3" y2="42.2" stroke="#000" stroke-width="0.7"/>
<line x1="589.8" y1="30.4" x2="589.8" y2="35.96" stroke="#000" stroke-width="0.7"/>
<line x1="589.8" y1="105.09" x2="589.8" y2="110.65" stroke="#000" stroke-width="0.7"/>
<line x1="631.55" y1="30.4" x2="631.55" y2="35.96" stroke="#000" stroke-width="0.7"/>
<line x1="631.55" y1="105.09" x2="631.55" y2="110.65" stroke="#000" stroke-width="0.7"/>
<line x1="673.3" y1="30.4" x2="673.3" y2="35.96" stroke="#000" stroke-width="0.7"/>
<line x1="673.3" y1="105.09" x2="673.3" y2="110.65" stroke="#000" stroke-width="0.7"/>
<rect x="589.8" y="30.4" width="83.5" height="80.25" fill="none" stroke="#000" stroke-width="1.39"/>
<rect x="557.96" y="100.83" width="8.7" height="1.15" fill="#000"/>
<text transform="translate(568.6,105.77) rotate(0.05) scale(1.0068,1.0596)" font-size="13.9">1</text>
<text transform="translate(577.32,105.77) rotate(0.05) scale(1.0541,1.0629)" font-size="13.9">0</text>
<rect x="567.1" y="81.33" width="8.7" height="1.15" fill="#000"/>
<text transform="translate(577.79,86.27) rotate(0.05) scale(0.9949,1.0596)" font-size="13.9">5</text>
<text transform="translate(577.32,66.77) rotate(0.05) scale(1.0541,1.0629)" font-size="13.9">0</text>
<text transform="translate(577.79,47.27) rotate(0.05) scale(0.9949,1.0596)" font-size="13.9">5</text>
<text transform="translate(579.89,127.5) rotate(0.05) scale(1.0541,1.0629)" font-size="13.9">0</text>
<text transform="translate(588.51,127.5) rotate(0.05) scale(1.0821,1.1598)" font-size="13.9">.</text>
<text transform="translate(593.16,127.5) rotate(0.05) scale(1.0541,1.0629)" font-size="13.9">0</text>
<text transform="translate(621.79,127.5) rotate(0.05) scale(1.0541,1.0629)" font-size="13.9">0</text>
<text transform="translate(630.4,127.5) rotate(0.05) scale(1.0821,1.1598)" font-size="13.9">.</text>
<text transform="translate(635.23,127.5) rotate(0.05) scale(0.9949,1.0596)" font-size="13.9">5</text>
<text transform="translate(663.21,127.5) rotate(0.05) scale(1.0068,1.0596)" font-size="13.9">1</text>
<text transform="translate(671.7,127.5) rotate(0.05) scale(1.0821,1.1598)" font-size="13.9">.</text>
<text transform="translate(676.35,127.5) rotate(0.05) scale(1.0541,1.0629)" font-size="13.9">0</text>
<text transform="translate(605.4,142.7) rotate(0.05) scale(1.0675,1.0749)" font-size="16.67">p</text>
<text transform="translate(615.7,142.7) rotate(0.05) scale(1.0652,1.0819)" font-size="16.67">h</text>
<text transform="translate(626.17,142.7) rotate(0.05) scale(0.8823,1.0739)" font-size="16.67">a</text>
<text transform="translate(636.29,142.7) rotate(0.05) scale(0.9405,1.0769)" font-size="16.67">s</text>
<text transform="translate(644.51,142.7) rotate(0.05) scale(1.0598,1.0739)" font-size="16.67">e</text>
<text transform="translate(625.73,18.4) rotate(0.05) scale(0.9527,1.0596)" font-size="23.6">E</text>
<g clip-path="url(#cb0)">
<line x1="53.6" y1="207.8" x2="137.2" y2="207.8" stroke="#000" stroke-width="1.39" stroke-dasharray="1.39 4.17"/>
<polyline points="68.8,245.19 84,188.6 99.2,217.7 114.4,203.18 129.6,210.21 144.8,207.3" fill="none" stroke="#000" stroke-width="1.39" stroke-linejoin="round"/>
<circle cx="68.8" cy="245.19" r="4.15" fill="#1a28d8" stroke="#000040" stroke-width="0.85"/>
<circle cx="84" cy="188.6" r="4.15" fill="#1a28d8" stroke="#000040" stroke-width="0.85"/>
<circle cx="99.2" cy="217.7" r="4.15" fill="#1a28d8" stroke="#000040" stroke-width="0.85"/>
<circle cx="114.4" cy="203.18" r="4.15" fill="#1a28d8" stroke="#000040" stroke-width="0.85"/>
<circle cx="129.6" cy="210.21" r="4.15" fill="#1a28d8" stroke="#000040" stroke-width="0.85"/>
<polyline points="68.8,245.19 84,188.6 99.2,217.7 114.4,203.18 129.6,210.21 144.8,207.3" fill="none" stroke="#000" stroke-width="1.39" stroke-linejoin="round" opacity="0.45"/>
</g>
<line x1="53.6" y1="258.05" x2="59.16" y2="258.05" stroke="#000" stroke-width="0.7"/>
<line x1="131.64" y1="258.05" x2="137.2" y2="258.05" stroke="#000" stroke-width="0.7"/>
<line x1="53.6" y1="232.93" x2="59.16" y2="232.93" stroke="#000" stroke-width="0.7"/>
<line x1="131.64" y1="232.93" x2="137.2" y2="232.93" stroke="#000" stroke-width="0.7"/>
<line x1="53.6" y1="207.8" x2="59.16" y2="207.8" stroke="#000" stroke-width="0.7"/>
<line x1="131.64" y1="207.8" x2="137.2" y2="207.8" stroke="#000" stroke-width="0.7"/>
<line x1="53.6" y1="182.68" x2="59.16" y2="182.68" stroke="#000" stroke-width="0.7"/>
<line x1="131.64" y1="182.68" x2="137.2" y2="182.68" stroke="#000" stroke-width="0.7"/>
<line x1="68.8" y1="177.7" x2="68.8" y2="183.26" stroke="#000" stroke-width="0.7"/>
<line x1="68.8" y1="252.44" x2="68.8" y2="258.0" stroke="#000" stroke-width="0.7"/>
<line x1="84" y1="177.7" x2="84" y2="183.26" stroke="#000" stroke-width="0.7"/>
<line x1="84" y1="252.44" x2="84" y2="258.0" stroke="#000" stroke-width="0.7"/>
<line x1="99.2" y1="177.7" x2="99.2" y2="183.26" stroke="#000" stroke-width="0.7"/>
<line x1="99.2" y1="252.44" x2="99.2" y2="258.0" stroke="#000" stroke-width="0.7"/>
<line x1="114.4" y1="177.7" x2="114.4" y2="183.26" stroke="#000" stroke-width="0.7"/>
<line x1="114.4" y1="252.44" x2="114.4" y2="258.0" stroke="#000" stroke-width="0.7"/>
<line x1="129.6" y1="177.7" x2="129.6" y2="183.26" stroke="#000" stroke-width="0.7"/>
<line x1="129.6" y1="252.44" x2="129.6" y2="258.0" stroke="#000" stroke-width="0.7"/>
<rect x="53.6" y="177.7" width="83.6" height="80.3" fill="none" stroke="#000" stroke-width="1.39"/>
<rect x="17.34" y="258.18" width="8.7" height="1.15" fill="#000"/>
<text transform="translate(27.98,263.12) rotate(0.05) scale(1.0068,1.0596)" font-size="13.9">1</text>
<text transform="translate(36.47,263.12) rotate(0.05) scale(1.0821,1.1598)" font-size="13.9">.</text>
<text transform="translate(41.12,263.12) rotate(0.05) scale(1.0541,1.0629)" font-size="13.9">0</text>
<rect x="17.64" y="233.06" width="8.7" height="1.15" fill="#000"/>
<text transform="translate(28.15,237.99) rotate(0.05) scale(1.0541,1.0629)" font-size="13.9">0</text>
<text transform="translate(36.77,237.99) rotate(0.05) scale(1.0821,1.1598)" font-size="13.9">.</text>
<text transform="translate(41.59,237.99) rotate(0.05) scale(0.9949,1.0596)" font-size="13.9">5</text>
<text transform="translate(27.86,212.87) rotate(0.05) scale(1.0541,1.0629)" font-size="13.9">0</text>
<text transform="translate(36.47,212.87) rotate(0.05) scale(1.0821,1.1598)" font-size="13.9">.</text>
<text transform="translate(41.12,212.87) rotate(0.05) scale(1.0541,1.0629)" font-size="13.9">0</text>
<text transform="translate(28.15,187.74) rotate(0.05) scale(1.0541,1.0629)" font-size="13.9">0</text>
<text transform="translate(36.77,187.74) rotate(0.05) scale(1.0821,1.1598)" font-size="13.9">.</text>
<text transform="translate(41.59,187.74) rotate(0.05) scale(0.9949,1.0596)" font-size="13.9">5</text>
<text transform="translate(65.42,274.4) rotate(0.05) scale(1.0068,1.0596)" font-size="13.9">1</text>
<text transform="translate(80.77,274.4) rotate(0.05) scale(1.0161,1.0629)" font-size="13.9">2</text>
<text transform="translate(96.03,274.4) rotate(0.05) scale(1.0124,1.0629)" font-size="13.9">3</text>
<text transform="translate(111.07,274.4) rotate(0.05) scale(1.0543,1.0596)" font-size="13.9">4</text>
<text transform="translate(126.47,274.4) rotate(0.05) scale(0.9949,1.0596)" font-size="13.9">5</text>
<text transform="translate(81.87,292) rotate(0.05) scale(1.0019,1.0819)" font-size="16.67">l</text>
<text transform="translate(86.36,292) rotate(0.05) scale(0.8814,1.0739)" font-size="16.67">a</text>
<text transform="translate(96.17,292) rotate(0.05) scale(1.0653,1.0769)" font-size="16.67">g</text>
<g clip-path="url(#cb1)">
<line x1="187.0" y1="189.4" x2="270.5" y2="189.4" stroke="#000" stroke-width="1.39" stroke-dasharray="1.39 4.17"/>
<polyline points="202.18,243.65 217.36,191.58 232.55,189.4 247.73,189.4 262.91,189.4 278.09,189.4" fill="none" stroke="#000" stroke-width="1.39" stroke-linejoin="round"/>
<circle cx="202.18" cy="243.65" r="4.15" fill="#1a28d8" stroke="#000040" stroke-width="0.85"/>
<circle cx="217.36" cy="191.58" r="4.15" fill="#1a28d8" stroke="#000040" stroke-width="0.85"/>
<circle cx="232.55" cy="189.4" r="4.15" fill="#1a28d8" stroke="#000040" stroke-width="0.85"/>
<circle cx="247.73" cy="189.4" r="4.15" fill="#1a28d8" stroke="#000040" stroke-width="0.85"/>
<circle cx="262.91" cy="189.4" r="4.15" fill="#1a28d8" stroke="#000040" stroke-width="0.85"/>
<polyline points="202.18,243.65 217.36,191.58 232.55,189.4 247.73,189.4 262.91,189.4 278.09,189.4" fill="none" stroke="#000" stroke-width="1.39" stroke-linejoin="round" opacity="0.45"/>
</g>
<line x1="187.0" y1="177.93" x2="192.56" y2="177.93" stroke="#000" stroke-width="0.7"/>
<line x1="264.94" y1="177.93" x2="270.5" y2="177.93" stroke="#000" stroke-width="0.7"/>
<line x1="187.0" y1="189.4" x2="192.56" y2="189.4" stroke="#000" stroke-width="0.7"/>
<line x1="264.94" y1="189.4" x2="270.5" y2="189.4" stroke="#000" stroke-width="0.7"/>
<line x1="187.0" y1="200.87" x2="192.56" y2="200.87" stroke="#000" stroke-width="0.7"/>
<line x1="264.94" y1="200.87" x2="270.5" y2="200.87" stroke="#000" stroke-width="0.7"/>
<line x1="187.0" y1="212.34" x2="192.56" y2="212.34" stroke="#000" stroke-width="0.7"/>
<line x1="264.94" y1="212.34" x2="270.5" y2="212.34" stroke="#000" stroke-width="0.7"/>
<line x1="187.0" y1="223.81" x2="192.56" y2="223.81" stroke="#000" stroke-width="0.7"/>
<line x1="264.94" y1="223.81" x2="270.5" y2="223.81" stroke="#000" stroke-width="0.7"/>
<line x1="187.0" y1="235.28" x2="192.56" y2="235.28" stroke="#000" stroke-width="0.7"/>
<line x1="264.94" y1="235.28" x2="270.5" y2="235.28" stroke="#000" stroke-width="0.7"/>
<line x1="187.0" y1="246.75" x2="192.56" y2="246.75" stroke="#000" stroke-width="0.7"/>
<line x1="264.94" y1="246.75" x2="270.5" y2="246.75" stroke="#000" stroke-width="0.7"/>
<line x1="202.18" y1="177.7" x2="202.18" y2="183.26" stroke="#000" stroke-width="0.7"/>
<line x1="202.18" y1="252.44" x2="202.18" y2="258.0" stroke="#000" stroke-width="0.7"/>
<line x1="217.36" y1="177.7" x2="217.36" y2="183.26" stroke="#000" stroke-width="0.7"/>
<line x1="217.36" y1="252.44" x2="217.36" y2="258.0" stroke="#000" stroke-width="0.7"/>
<line x1="232.55" y1="177.7" x2="232.55" y2="183.26" stroke="#000" stroke-width="0.7"/>
<line x1="232.55" y1="252.44" x2="232.55" y2="258.0" stroke="#000" stroke-width="0.7"/>
<line x1="247.73" y1="177.7" x2="247.73" y2="183.26" stroke="#000" stroke-width="0.7"/>
<line x1="247.73" y1="252.44" x2="247.73" y2="258.0" stroke="#000" stroke-width="0.7"/>
<line x1="262.91" y1="177.7" x2="262.91" y2="183.26" stroke="#000" stroke-width="0.7"/>
<line x1="262.91" y1="252.44" x2="262.91" y2="258.0" stroke="#000" stroke-width="0.7"/>
<rect x="187.0" y="177.7" width="83.5" height="80.3" fill="none" stroke="#000" stroke-width="1.39"/>
<text transform="translate(161.62,183) rotate(0.05) scale(1.0541,1.0629)" font-size="13.9">0</text>
<text transform="translate(170.23,183) rotate(0.05) scale(1.0821,1.1598)" font-size="13.9">.</text>
<text transform="translate(175,183) rotate(0.05) scale(1.0068,1.0596)" font-size="13.9">1</text>
<text transform="translate(161.26,194.47) rotate(0.05) scale(1.0541,1.0629)" font-size="13.9">0</text>
<text transform="translate(169.87,194.47) rotate(0.05) scale(1.0821,1.1598)" font-size="13.9">.</text>
<text transform="translate(174.52,194.47) rotate(0.05) scale(1.0541,1.0629)" font-size="13.9">0</text>
<rect x="151.1" y="201" width="8.7" height="1.15" fill="#000"/>
<text transform="translate(161.62,205.94) rotate(0.05) scale(1.0541,1.0629)" font-size="13.9">0</text>
<text transform="translate(170.23,205.94) rotate(0.05) scale(1.0821,1.1598)" font-size="13.9">.</text>
<text transform="translate(175,205.94) rotate(0.05) scale(1.0068,1.0596)" font-size="13.9">1</text>
<rect x="151.21" y="212.47" width="8.7" height="1.15" fill="#000"/>
<text transform="translate(161.73,217.41) rotate(0.05) scale(1.0541,1.0629)" font-size="13.9">0</text>
<text transform="translate(170.34,217.41) rotate(0.05) scale(1.0821,1.1598)" font-size="13.9">.</text>
<text transform="translate(174.96,217.41) rotate(0.05) scale(1.0161,1.0629)" font-size="13.9">2</text>
<rect x="150.93" y="223.94" width="8.7" height="1.15" fill="#000"/>
<text transform="translate(161.45,228.88) rotate(0.05) scale(1.0541,1.0629)" font-size="13.9">0</text>
<text transform="translate(170.06,228.88) rotate(0.05) scale(1.0821,1.1598)" font-size="13.9">.</text>
<text transform="translate(174.89,228.88) rotate(0.05) scale(1.0124,1.0629)" font-size="13.9">3</text>
<rect x="150.6" y="235.41" width="8.7" height="1.15" fill="#000"/>
<text transform="translate(161.12,240.35) rotate(0.05) scale(1.0541,1.0629)" font-size="13.9">0</text>
<text transform="translate(169.73,240.35) rotate(0.05) scale(1.0821,1.1598)" font-size="13.9">.</text>
<text transform="translate(174.38,240.35) rotate(0.05) scale(1.0543,1.0596)" font-size="13.9">4</text>
<rect x="151.04" y="246.88" width="8.7" height="1.15" fill="#000"/>
<text transform="translate(161.55,251.82) rotate(0.05) scale(1.0541,1.0629)" font-size="13.9">0</text>
<text transform="translate(170.17,251.82) rotate(0.05) scale(1.0821,1.1598)" font-size="13.9">.</text>
<text transform="translate(174.99,251.82) rotate(0.05) scale(0.9949,1.0596)" font-size="13.9">5</text>
<text transform="translate(198.8,274.4) rotate(0.05) scale(1.0068,1.0596)" font-size="13.9">1</text>
<text transform="translate(214.14,274.4) rotate(0.05) scale(1.0161,1.0629)" font-size="13.9">2</text>
<text transform="translate(229.37,274.4) rotate(0.05) scale(1.0124,1.0629)" font-size="13.9">3</text>
<text transform="translate(244.4,274.4) rotate(0.05) scale(1.0543,1.0596)" font-size="13.9">4</text>
<text transform="translate(259.78,274.4) rotate(0.05) scale(0.9949,1.0596)" font-size="13.9">5</text>
<text transform="translate(215.22,292) rotate(0.05) scale(1.0019,1.0819)" font-size="16.67">l</text>
<text transform="translate(219.71,292) rotate(0.05) scale(0.8814,1.0739)" font-size="16.67">a</text>
<text transform="translate(229.52,292) rotate(0.05) scale(1.0653,1.0769)" font-size="16.67">g</text>
<g clip-path="url(#cb2)">
<line x1="321.0" y1="198.0" x2="404.6" y2="198.0" stroke="#000" stroke-width="1.39" stroke-dasharray="1.39 4.17"/>
<polyline points="336.2,246.48 351.4,222.09 366.6,210.55 381.8,203.92 397,201.51 412.2,199.2" fill="none" stroke="#000" stroke-width="1.39" stroke-linejoin="round"/>
<circle cx="336.2" cy="246.48" r="4.15" fill="#1a28d8" stroke="#000040" stroke-width="0.85"/>
<circle cx="351.4" cy="222.09" r="4.15" fill="#1a28d8" stroke="#000040" stroke-width="0.85"/>
<circle cx="366.6" cy="210.55" r="4.15" fill="#1a28d8" stroke="#000040" stroke-width="0.85"/>
<circle cx="381.8" cy="203.92" r="4.15" fill="#1a28d8" stroke="#000040" stroke-width="0.85"/>
<circle cx="397" cy="201.51" r="4.15" fill="#1a28d8" stroke="#000040" stroke-width="0.85"/>
<polyline points="336.2,246.48 351.4,222.09 366.6,210.55 381.8,203.92 397,201.51 412.2,199.2" fill="none" stroke="#000" stroke-width="1.39" stroke-linejoin="round" opacity="0.45"/>
</g>
<line x1="321.0" y1="177.93" x2="326.56" y2="177.93" stroke="#000" stroke-width="0.7"/>
<line x1="399.04" y1="177.93" x2="404.6" y2="177.93" stroke="#000" stroke-width="0.7"/>
<line x1="321.0" y1="198" x2="326.56" y2="198" stroke="#000" stroke-width="0.7"/>
<line x1="399.04" y1="198" x2="404.6" y2="198" stroke="#000" stroke-width="0.7"/>
<line x1="321.0" y1="218.07" x2="326.56" y2="218.07" stroke="#000" stroke-width="0.7"/>
<line x1="399.04" y1="218.07" x2="404.6" y2="218.07" stroke="#000" stroke-width="0.7"/>
<line x1="321.0" y1="238.15" x2="326.56" y2="238.15" stroke="#000" stroke-width="0.7"/>
<line x1="399.04" y1="238.15" x2="404.6" y2="238.15" stroke="#000" stroke-width="0.7"/>
<line x1="321.0" y1="258.23" x2="326.56" y2="258.23" stroke="#000" stroke-width="0.7"/>
<line x1="399.04" y1="258.23" x2="404.6" y2="258.23" stroke="#000" stroke-width="0.7"/>
<line x1="336.2" y1="177.7" x2="336.2" y2="183.26" stroke="#000" stroke-width="0.7"/>
<line x1="336.2" y1="252.44" x2="336.2" y2="258.0" stroke="#000" stroke-width="0.7"/>
<line x1="351.4" y1="177.7" x2="351.4" y2="183.26" stroke="#000" stroke-width="0.7"/>
<line x1="351.4" y1="252.44" x2="351.4" y2="258.0" stroke="#000" stroke-width="0.7"/>
<line x1="366.6" y1="177.7" x2="366.6" y2="183.26" stroke="#000" stroke-width="0.7"/>
<line x1="366.6" y1="252.44" x2="366.6" y2="258.0" stroke="#000" stroke-width="0.7"/>
<line x1="381.8" y1="177.7" x2="381.8" y2="183.26" stroke="#000" stroke-width="0.7"/>
<line x1="381.8" y1="252.44" x2="381.8" y2="258.0" stroke="#000" stroke-width="0.7"/>
<line x1="397" y1="177.7" x2="397" y2="183.26" stroke="#000" stroke-width="0.7"/>
<line x1="397" y1="252.44" x2="397" y2="258.0" stroke="#000" stroke-width="0.7"/>
<rect x="321.0" y="177.7" width="83.6" height="80.3" fill="none" stroke="#000" stroke-width="1.39"/>
<text transform="translate(295.62,182.99) rotate(0.05) scale(1.0541,1.0629)" font-size="13.9">0</text>
<text transform="translate(304.23,182.99) rotate(0.05) scale(1.0821,1.1598)" font-size="13.9">.</text>
<text transform="translate(309,182.99) rotate(0.05) scale(1.0068,1.0596)" font-size="13.9">1</text>
<text transform="translate(295.26,203.07) rotate(0.05) scale(1.0541,1.0629)" font-size="13.9">0</text>
<text transform="translate(303.87,203.07) rotate(0.05) scale(1.0821,1.1598)" font-size="13.9">.</text>
<text transform="translate(308.52,203.07) rotate(0.05) scale(1.0541,1.0629)" font-size="13.9">0</text>
<rect x="285.1" y="218.21" width="8.7" height="1.15" fill="#000"/>
<text transform="translate(295.62,223.14) rotate(0.05) scale(1.0541,1.0629)" font-size="13.9">0</text>
<text transform="translate(304.23,223.14) rotate(0.05) scale(1.0821,1.1598)" font-size="13.9">.</text>
<text transform="translate(309,223.14) rotate(0.05) scale(1.0068,1.0596)" font-size="13.9">1</text>
<rect x="285.21" y="238.28" width="8.7" height="1.15" fill="#000"/>
<text transform="translate(295.73,243.22) rotate(0.05) scale(1.0541,1.0629)" font-size="13.9">0</text>
<text transform="translate(304.34,243.22) rotate(0.05) scale(1.0821,1.1598)" font-size="13.9">.</text>
<text transform="translate(308.96,243.22) rotate(0.05) scale(1.0161,1.0629)" font-size="13.9">2</text>
<rect x="284.93" y="258.36" width="8.7" height="1.15" fill="#000"/>
<text transform="translate(295.45,263.29) rotate(0.05) scale(1.0541,1.0629)" font-size="13.9">0</text>
<text transform="translate(304.06,263.29) rotate(0.05) scale(1.0821,1.1598)" font-size="13.9">.</text>
<text transform="translate(308.89,263.29) rotate(0.05) scale(1.0124,1.0629)" font-size="13.9">3</text>
<text transform="translate(332.82,274.4) rotate(0.05) scale(1.0068,1.0596)" font-size="13.9">1</text>
<text transform="translate(348.17,274.4) rotate(0.05) scale(1.0161,1.0629)" font-size="13.9">2</text>
<text transform="translate(363.43,274.4) rotate(0.05) scale(1.0124,1.0629)" font-size="13.9">3</text>
<text transform="translate(378.47,274.4) rotate(0.05) scale(1.0543,1.0596)" font-size="13.9">4</text>
<text transform="translate(393.87,274.4) rotate(0.05) scale(0.9949,1.0596)" font-size="13.9">5</text>
<text transform="translate(349.27,292) rotate(0.05) scale(1.0019,1.0819)" font-size="16.67">l</text>
<text transform="translate(353.76,292) rotate(0.05) scale(0.8814,1.0739)" font-size="16.67">a</text>
<text transform="translate(363.57,292) rotate(0.05) scale(1.0653,1.0769)" font-size="16.67">g</text>
<g clip-path="url(#cb3)">
<line x1="455.1" y1="217.85" x2="538.6" y2="217.85" stroke="#000" stroke-width="1.39" stroke-dasharray="1.39 4.17"/>
<polyline points="470.28,218.25 485.46,218.65 500.65,217.05 515.83,218.65 531.01,217.45 546.19,217.85" fill="none" stroke="#000" stroke-width="1.39" stroke-linejoin="round"/>
<circle cx="470.28" cy="218.25" r="4.15" fill="#1a28d8" stroke="#000040" stroke-width="0.85"/>
<circle cx="485.46" cy="218.65" r="4.15" fill="#1a28d8" stroke="#000040" stroke-width="0.85"/>
<circle cx="500.65" cy="217.05" r="4.15" fill="#1a28d8" stroke="#000040" stroke-width="0.85"/>
<circle cx="515.83" cy="218.65" r="4.15" fill="#1a28d8" stroke="#000040" stroke-width="0.85"/>
<circle cx="531.01" cy="217.45" r="4.15" fill="#1a28d8" stroke="#000040" stroke-width="0.85"/>
<polyline points="470.28,218.25 485.46,218.65 500.65,217.05 515.83,218.65 531.01,217.45 546.19,217.85" fill="none" stroke="#000" stroke-width="1.39" stroke-linejoin="round" opacity="0.45"/>
</g>
<line x1="455.1" y1="177.7" x2="460.66" y2="177.7" stroke="#000" stroke-width="0.7"/>
<line x1="533.04" y1="177.7" x2="538.6" y2="177.7" stroke="#000" stroke-width="0.7"/>
<line x1="455.1" y1="217.85" x2="460.66" y2="217.85" stroke="#000" stroke-width="0.7"/>
<line x1="533.04" y1="217.85" x2="538.6" y2="217.85" stroke="#000" stroke-width="0.7"/>
<line x1="455.1" y1="258" x2="460.66" y2="258" stroke="#000" stroke-width="0.7"/>
<line x1="533.04" y1="258" x2="538.6" y2="258" stroke="#000" stroke-width="0.7"/>
<line x1="470.28" y1="177.7" x2="470.28" y2="183.26" stroke="#000" stroke-width="0.7"/>
<line x1="470.28" y1="252.44" x2="470.28" y2="258.0" stroke="#000" stroke-width="0.7"/>
<line x1="485.46" y1="177.7" x2="485.46" y2="183.26" stroke="#000" stroke-width="0.7"/>
<line x1="485.46" y1="252.44" x2="485.46" y2="258.0" stroke="#000" stroke-width="0.7"/>
<line x1="500.65" y1="177.7" x2="500.65" y2="183.26" stroke="#000" stroke-width="0.7"/>
<line x1="500.65" y1="252.44" x2="500.65" y2="258.0" stroke="#000" stroke-width="0.7"/>
<line x1="515.83" y1="177.7" x2="515.83" y2="183.26" stroke="#000" stroke-width="0.7"/>
<line x1="515.83" y1="252.44" x2="515.83" y2="258.0" stroke="#000" stroke-width="0.7"/>
<line x1="531.01" y1="177.7" x2="531.01" y2="183.26" stroke="#000" stroke-width="0.7"/>
<line x1="531.01" y1="252.44" x2="531.01" y2="258.0" stroke="#000" stroke-width="0.7"/>
<rect x="455.1" y="177.7" width="83.5" height="80.3" fill="none" stroke="#000" stroke-width="1.39"/>
<text transform="translate(429.72,182.77) rotate(0.05) scale(1.0541,1.0629)" font-size="13.9">0</text>
<text transform="translate(438.33,182.77) rotate(0.05) scale(1.0821,1.1598)" font-size="13.9">.</text>
<text transform="translate(443.1,182.77) rotate(0.05) scale(1.0068,1.0596)" font-size="13.9">1</text>
<text transform="translate(429.36,222.92) rotate(0.05) scale(1.0541,1.0629)" font-size="13.9">0</text>
<text transform="translate(437.97,222.92) rotate(0.05) scale(1.0821,1.1598)" font-size="13.9">.</text>
<text transform="translate(442.62,222.92) rotate(0.05) scale(1.0541,1.0629)" font-size="13.9">0</text>
<rect x="419.2" y="258.13" width="8.7" height="1.15" fill="#000"/>
<text transform="translate(429.72,263.07) rotate(0.05) scale(1.0541,1.0629)" font-size="13.9">0</text>
<text transform="translate(438.33,263.07) rotate(0.05) scale(1.0821,1.1598)" font-size="13.9">.</text>
<text transform="translate(443.1,263.07) rotate(0.05) scale(1.0068,1.0596)" font-size="13.9">1</text>
<text transform="translate(466.9,274.4) rotate(0.05) scale(1.0068,1.0596)" font-size="13.9">1</text>
<text transform="translate(482.24,274.4) rotate(0.05) scale(1.0161,1.0629)" font-size="13.9">2</text>
<text transform="translate(497.47,274.4) rotate(0.05) scale(1.0124,1.0629)" font-size="13.9">3</text>
<text transform="translate(512.5,274.4) rotate(0.05) scale(1.0543,1.0596)" font-size="13.9">4</text>
<text transform="translate(527.88,274.4) rotate(0.05) scale(0.9949,1.0596)" font-size="13.9">5</text>
<text transform="translate(483.32,292) rotate(0.05) scale(1.0019,1.0819)" font-size="16.67">l</text>
<text transform="translate(487.81,292) rotate(0.05) scale(0.8814,1.0739)" font-size="16.67">a</text>
<text transform="translate(497.62,292) rotate(0.05) scale(1.0653,1.0769)" font-size="16.67">g</text>
<g clip-path="url(#cb4)">
<line x1="589.9" y1="231.2" x2="673.4" y2="231.2" stroke="#000" stroke-width="1.39" stroke-dasharray="1.39 4.17"/>
<polyline points="605.08,184.2 620.26,225.32 635.45,231.41 650.63,232.27 665.81,231.73 680.99,231.2" fill="none" stroke="#000" stroke-width="1.39" stroke-linejoin="round"/>
<circle cx="605.08" cy="184.2" r="4.15" fill="#1a28d8" stroke="#000040" stroke-width="0.85"/>
<circle cx="620.26" cy="225.32" r="4.15" fill="#1a28d8" stroke="#000040" stroke-width="0.85"/>
<circle cx="635.45" cy="231.41" r="4.15" fill="#1a28d8" stroke="#000040" stroke-width="0.85"/>
<circle cx="650.63" cy="232.27" r="4.15" fill="#1a28d8" stroke="#000040" stroke-width="0.85"/>
<circle cx="665.81" cy="231.73" r="4.15" fill="#1a28d8" stroke="#000040" stroke-width="0.85"/>
<polyline points="605.08,184.2 620.26,225.32 635.45,231.41 650.63,232.27 665.81,231.73 680.99,231.2" fill="none" stroke="#000" stroke-width="1.39" stroke-linejoin="round" opacity="0.45"/>
</g>
<line x1="589.9" y1="177.73" x2="595.46" y2="177.73" stroke="#000" stroke-width="0.7"/>
<line x1="667.84" y1="177.73" x2="673.4" y2="177.73" stroke="#000" stroke-width="0.7"/>
<line x1="589.9" y1="231.2" x2="595.46" y2="231.2" stroke="#000" stroke-width="0.7"/>
<line x1="667.84" y1="231.2" x2="673.4" y2="231.2" stroke="#000" stroke-width="0.7"/>
<line x1="605.08" y1="177.7" x2="605.08" y2="183.26" stroke="#000" stroke-width="0.7"/>
<line x1="605.08" y1="252.44" x2="605.08" y2="258.0" stroke="#000" stroke-width="0.7"/>
<line x1="620.26" y1="177.7" x2="620.26" y2="183.26" stroke="#000" stroke-width="0.7"/>
<line x1="620.26" y1="252.44" x2="620.26" y2="258.0" stroke="#000" stroke-width="0.7"/>
<line x1="635.45" y1="177.7" x2="635.45" y2="183.26" stroke="#000" stroke-width="0.7"/>
<line x1="635.45" y1="252.44" x2="635.45" y2="258.0" stroke="#000" stroke-width="0.7"/>
<line x1="650.63" y1="177.7" x2="650.63" y2="183.26" stroke="#000" stroke-width="0.7"/>
<line x1="650.63" y1="252.44" x2="650.63" y2="258.0" stroke="#000" stroke-width="0.7"/>
<line x1="665.81" y1="177.7" x2="665.81" y2="183.26" stroke="#000" stroke-width="0.7"/>
<line x1="665.81" y1="252.44" x2="665.81" y2="258.0" stroke="#000" stroke-width="0.7"/>
<rect x="589.9" y="177.7" width="83.5" height="80.3" fill="none" stroke="#000" stroke-width="1.39"/>
<text transform="translate(564.52,182.8) rotate(0.05) scale(1.0541,1.0629)" font-size="13.9">0</text>
<text transform="translate(573.13,182.8) rotate(0.05) scale(1.0821,1.1598)" font-size="13.9">.</text>
<text transform="translate(577.9,182.8) rotate(0.05) scale(1.0068,1.0596)" font-size="13.9">1</text>
<text transform="translate(564.16,236.27) rotate(0.05) scale(1.0541,1.0629)" font-size="13.9">0</text>
<text transform="translate(572.77,236.27) rotate(0.05) scale(1.0821,1.1598)" font-size="13.9">.</text>
<text transform="translate(577.42,236.27) rotate(0.05) scale(1.0541,1.0629)" font-size="13.9">0</text>
<text transform="translate(601.7,274.4) rotate(0.05) scale(1.0068,1.0596)" font-size="13.9">1</text>
<text transform="translate(617.04,274.4) rotate(0.05) scale(1.0161,1.0629)" font-size="13.9">2</text>
<text transform="translate(632.27,274.4) rotate(0.05) scale(1.0124,1.0629)" font-size="13.9">3</text>
<text transform="translate(647.3,274.4) rotate(0.05) scale(1.0543,1.0596)" font-size="13.9">4</text>
<text transform="translate(662.68,274.4) rotate(0.05) scale(0.9949,1.0596)" font-size="13.9">5</text>
<text transform="translate(618.12,292) rotate(0.05) scale(1.0019,1.0819)" font-size="16.67">l</text>
<text transform="translate(622.61,292) rotate(0.05) scale(0.8814,1.0739)" font-size="16.67">a</text>
<text transform="translate(632.42,292) rotate(0.05) scale(1.0653,1.0769)" font-size="16.67">g</text>
<g transform="translate(19.0,135.8) rotate(-89.95)">
<text transform="translate(0.03,0) rotate(0.05) scale(1.0523,1.0351)" font-size="16.67">w</text>
<text transform="translate(13.63,0) rotate(0.05) scale(1.1245,1.0408)" font-size="16.67">e</text>
<text transform="translate(24.59,0) rotate(0.05) scale(1.0643,1.0485)" font-size="16.67">i</text>
<text transform="translate(29.13,0) rotate(0.05) scale(1.1316,1.0437)" font-size="16.67">g</text>
<text transform="translate(40.25,0) rotate(0.05) scale(1.1303,1.0485)" font-size="16.67">h</text>
<text transform="translate(51.1,0) rotate(0.05) scale(1.3915,1.0861)" font-size="16.67">t</text>
<text transform="translate(57.95,0) rotate(0.05) scale(1.1245,1.0408)" font-size="16.67">e</text>
<text transform="translate(68.63,0) rotate(0.05) scale(1.1316,1.0485)" font-size="16.67">d</text>
<text transform="translate(85.44,0) rotate(0.05) scale(0.9208,1.0596)" font-size="16.67">P</text>
<text transform="translate(95.81,0) rotate(0.05) scale(0.9957,1.0596)" font-size="16.67">R</text>
<text transform="translate(107.68,0) rotate(0.05) scale(0.9665,1.0629)" font-size="16.67">C</text>
</g>
<g transform="translate(13.55,232.6) rotate(-89.95)">
<text transform="translate(-0.69,0) rotate(0.05) scale(0.9122,1.0629)" font-size="16.67">S</text>
<text transform="translate(9.86,0) rotate(0.05) scale(0.9499,1.0629)" font-size="16.67">C</text>
<text transform="translate(21.77,0) rotate(0.05) scale(0.9499,1.0629)" font-size="16.67">C</text>
</g>
</g>
</svg>
</body></html>
